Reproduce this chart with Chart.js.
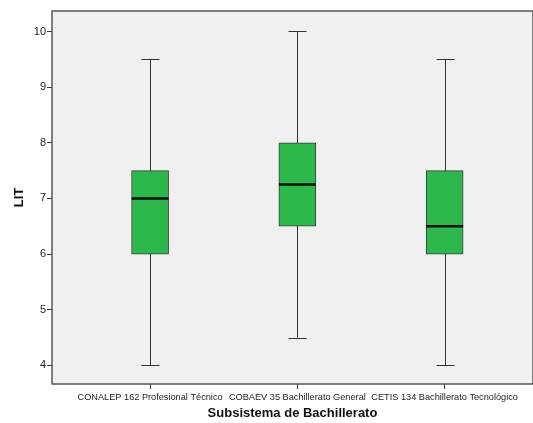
<!DOCTYPE html>
<html>
<head>
<meta charset="utf-8">
<script src="https://cdn.jsdelivr.net/npm/chart.js@4/dist/chart.umd.min.js"></script>
<style>
  body { margin: 0; background: #ffffff; }
  #wrap { width: 533px; height: 423px; position: relative; }
</style>
</head>
<body>
<div id="wrap"><canvas id="boxChart"></canvas></div>
<script>
// Box plot values (LIT by subsystem)
const categories = [
  "CONALEP 162 Profesional Técnico",
  "COBAEV 35 Bachillerato General",
  "CETIS 134 Bachillerato Tecnológico"
];
const xPos = [1, 2, 3];
const whiskerLow = [4, 4.5, 4];
const q1 = [6, 6.5, 6];
const median = [7, 7.25, 6.5];
const q3 = [7.5, 8, 7.5];
const whiskerHigh = [9.5, 10, 9.5];
const yTicks = [4, 5, 6, 7, 8, 9, 10];

const fontFamily = "Arial, 'Liberation Sans', sans-serif";
const boxWidth = 37;
const capWidth = 18;

// Plot background, whiskers and caps go behind the boxes; medians and frame on top.
const boxPlotPlugin = {
  id: "boxPlot",
  beforeDatasetsDraw(chart) {
    const { ctx, chartArea: a, scales } = chart;
    ctx.save();
    ctx.fillStyle = "#f0f0f0";
    ctx.fillRect(a.left, a.top, a.right - a.left, a.bottom - a.top);
    ctx.strokeStyle = "#333333";
    ctx.lineWidth = 1;
    xPos.forEach((xv, i) => {
      const x = Math.round(scales.x.getPixelForValue(xv)) + 0.5;
      const yLo = scales.y.getPixelForValue(whiskerLow[i]);
      const yHi = scales.y.getPixelForValue(whiskerHigh[i]);
      ctx.beginPath();
      ctx.moveTo(x, yLo);
      ctx.lineTo(x, yHi);
      ctx.moveTo(x - capWidth / 2, Math.round(yLo) + 0.5);
      ctx.lineTo(x + capWidth / 2, Math.round(yLo) + 0.5);
      ctx.moveTo(x - capWidth / 2, Math.round(yHi) + 0.5);
      ctx.lineTo(x + capWidth / 2, Math.round(yHi) + 0.5);
      ctx.stroke();
    });
    ctx.restore();
  },
  afterDatasetsDraw(chart) {
    const { ctx, chartArea: a, scales } = chart;
    ctx.save();
    ctx.strokeStyle = "#111111";
    ctx.lineWidth = 2.5;
    xPos.forEach((xv, i) => {
      const x = scales.x.getPixelForValue(xv);
      const y = scales.y.getPixelForValue(median[i]);
      ctx.beginPath();
      ctx.moveTo(x - boxWidth / 2, y);
      ctx.lineTo(x + boxWidth / 2, y);
      ctx.stroke();
    });
    ctx.strokeStyle = "#555555";
    ctx.lineWidth = 1.5;
    ctx.strokeRect(a.left, a.top, a.right - a.left, a.bottom - a.top);
    ctx.restore();
  }
};

const ctx = document.getElementById("boxChart").getContext("2d");
new Chart(ctx, {
  type: "bar",
  data: {
    datasets: [{
      data: xPos.map((xv, i) => ({ x: xv, y: [q1[i], q3[i]] })),
      backgroundColor: "#2db84b",
      borderColor: "#3a3a3a",
      borderWidth: 1,
      borderSkipped: false,
      barThickness: boxWidth
    }]
  },
  options: {
    responsive: true,
    maintainAspectRatio: false,
    animation: false,
    layout: { padding: { top: 11, right: 0, left: 0, bottom: 0 } },
    plugins: {
      legend: { display: false },
      tooltip: { enabled: false }
    },
    scales: {
      x: {
        type: "linear",
        offset: false,
        min: 0.334,
        max: 3.6,
        afterBuildTicks: (scale) => { scale.ticks = xPos.map(v => ({ value: v })); },
        afterFit: (scale) => { scale.height = 39; },
        border: { display: false },
        grid: { offset: false, drawOnChartArea: false, drawTicks: true, tickLength: 5, color: "#333333" },
        ticks: {
          autoSkip: false,
          maxRotation: 0,
          padding: 3,
          color: "#222222",
          font: { family: fontFamily, size: 9.2 },
          callback: (v) => categories[xPos.indexOf(v)]
        },
        title: {
          display: true,
          text: "Subsistema de Bachillerato",
          color: "#111111",
          font: { family: fontFamily, size: 13, weight: "bold" },
          padding: { top: 0, bottom: 2 }
        }
      },
      y: {
        min: 3.666,
        max: 10.368,
        afterBuildTicks: (scale) => { scale.ticks = yTicks.map(v => ({ value: v })); },
        afterFit: (scale) => { scale.width = 52; },
        border: { display: false },
        grid: { drawOnChartArea: false, drawTicks: true, tickLength: 5, color: "#333333" },
        ticks: {
          padding: 1,
          color: "#222222",
          font: { family: fontFamily, size: 11 }
        },
        title: {
          display: true,
          text: "LIT",
          color: "#111111",
          font: { family: fontFamily, size: 13, weight: "bold" },
          padding: { top: 12, bottom: 0 }
        }
      }
    }
  },
  plugins: [boxPlotPlugin]
});
</script>
</body>
</html>
